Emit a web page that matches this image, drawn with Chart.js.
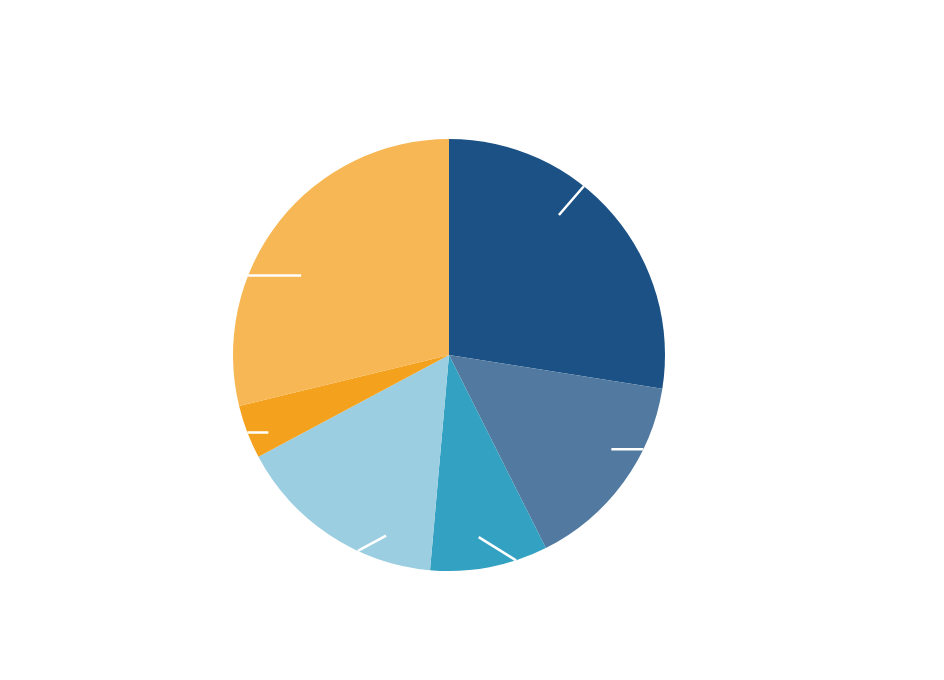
<!DOCTYPE html>
<html>
<head>
<meta charset="utf-8">
<script src="https://cdn.jsdelivr.net/npm/chart.js@4/dist/chart.umd.min.js"></script>
<style>
  html, body { margin: 0; padding: 0; background: #ffffff; }
  #wrap { width: 944px; height: 680px; position: relative; }
</style>
</head>
<body>
<div id="wrap"><canvas id="c"></canvas></div>
<script>
// Data
const categories = ["Segment A", "Segment B", "Segment C", "Segment D", "Segment E", "Segment F"];
const values = [27.5, 15.1, 8.8, 15.8, 4.0, 28.8];
const colors = ["#1c5185", "#527aa1", "#33a1c1", "#9acee0", "#f4a11d", "#f7b754"];

// Leader-line decoration (style): anchor as fraction of slice span, inward direction (deg, screen), length (px)
const leaderFrac = [0.39, 0.31, 0.27, 0.35, 0.49, 0.34];
const leaderDir = [130.8, 180, 211.9, -28.2, 0, 0];
const leaderLen = [38, 32, 44, 32, 21, 53];

const leaderPlugin = {
  id: 'leaders',
  afterDatasetsDraw(chart) {
    const ctx = chart.ctx;
    const meta = chart.getDatasetMeta(0);
    ctx.save();
    ctx.strokeStyle = '#ffffff';
    ctx.lineWidth = 2.5;
    meta.data.forEach((arc, i) => {
      const p = arc.getProps(['x', 'y', 'startAngle', 'endAngle', 'outerRadius'], true);
      const a = p.startAngle + leaderFrac[i] * (p.endAngle - p.startAngle);
      const x0 = p.x + Math.cos(a) * p.outerRadius;
      const y0 = p.y + Math.sin(a) * p.outerRadius;
      const d = leaderDir[i] * Math.PI / 180;
      const x1 = x0 + Math.cos(d) * leaderLen[i];
      const y1 = y0 + Math.sin(d) * leaderLen[i];
      ctx.beginPath();
      ctx.moveTo(x0, y0);
      ctx.lineTo(x1, y1);
      ctx.stroke();
    });
    ctx.restore();
  }
};

new Chart(document.getElementById('c'), {
  type: 'pie',
  data: {
    labels: categories,
    datasets: [{
      data: values,
      backgroundColor: colors,
      borderWidth: 0,
      hoverOffset: 0
    }]
  },
  options: {
    responsive: true,
    maintainAspectRatio: false,
    animation: false,
    layout: { padding: { left: 0, right: 46, top: 139, bottom: 109 } },
    plugins: {
      legend: { display: false },
      tooltip: { enabled: false },
      title: { display: false }
    }
  },
  plugins: [leaderPlugin]
});
</script>
</body>
</html>
